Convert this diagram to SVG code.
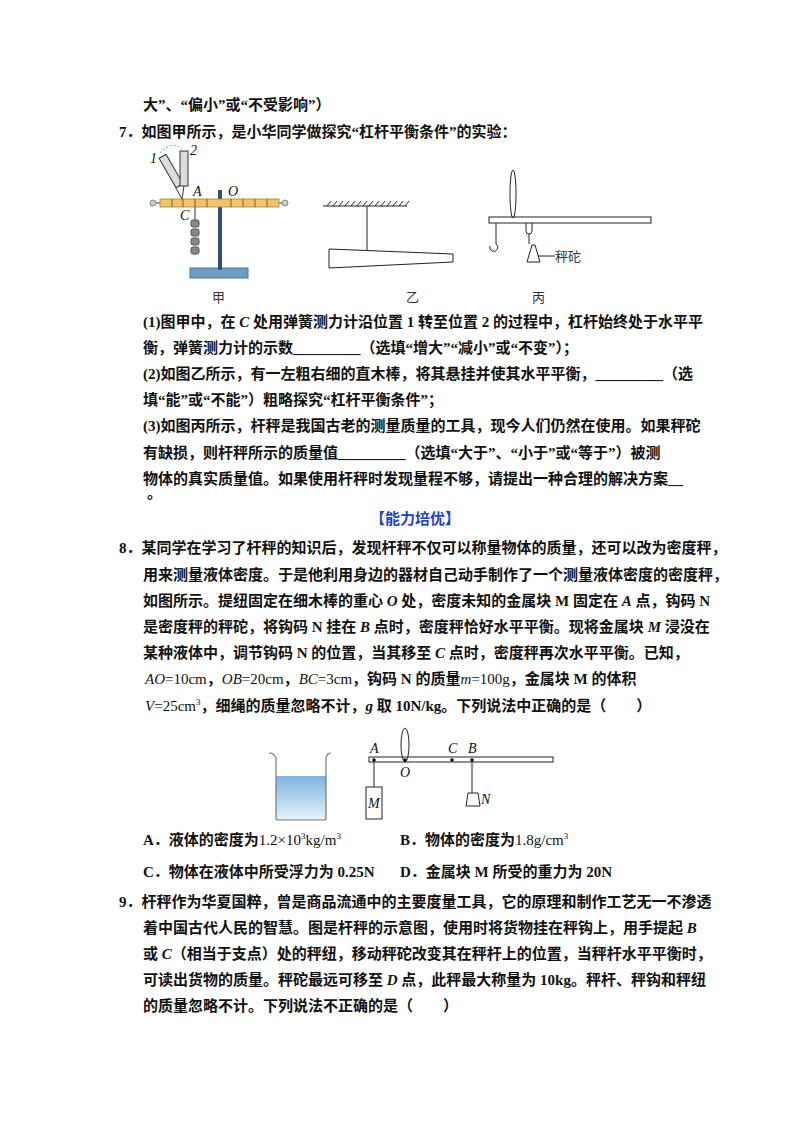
<svg xmlns="http://www.w3.org/2000/svg" width="800" height="1132" viewBox="0 0 800 1132">
<style>
.t{font-family:"Liberation Serif","Noto Sans CJK SC",serif;font-size:15px;font-weight:bold;fill:#111}
.l{font-family:"Liberation Serif",serif;font-size:14px;font-style:italic;fill:#111}
.c{font-family:"Noto Sans CJK SC",sans-serif;font-size:13px;fill:#333}
.s{stroke:#222;stroke-width:1;fill:none}
</style>
<rect width="800" height="1132" fill="#fff"/>
<g id="text">
<text class="t" x="143" y="110">大”、“偏小”或“不受影响”）</text>
<text class="t" x="119" y="137">7．如图甲所示，是小华同学做探究“杠杆平衡条件”的实验：</text>
<text class="t" x="143" y="327">(1)图甲中，在 <tspan font-style="italic">C</tspan> 处用弹簧测力计沿位置 1 转至位置 2 的过程中，杠杆始终处于水平平</text>
<text class="t" x="143" y="353">衡，弹簧测力计的示数_________（选填“增大”“减小”或“不变”）；</text>
<text class="t" x="143" y="379">(2)如图乙所示，有一左粗右细的直木棒，将其悬挂并使其水平平衡，_________（选</text>
<text class="t" x="143" y="405">填“能”或“不能”）粗略探究“杠杆平衡条件”；</text>
<text class="t" x="143" y="431">(3)如图丙所示，杆秤是我国古老的测量质量的工具，现今人们仍然在使用。如果秤砣</text>
<text class="t" x="143" y="458">有缺损，则杆秤所示的质量值_________（选填“大于”、“小于”或“等于”）被测</text>
<text class="t" x="143" y="484">物体的真实质量值。如果使用杆秤时发现量程不够，请提出一种合理的解决方案__</text>
<text class="t" x="147" y="498">。</text>
<text class="t" x="370" y="524" fill="#1a3fd8" style="fill:#1a3fd8">【能力培优】</text>
<text class="t" x="119" y="553">8．某同学在学习了杆秤的知识后，发现杆秤不仅可以称量物体的质量，还可以改为密度秤，</text>
<text class="t" x="143" y="580">用来测量液体密度。于是他利用身边的器材自己动手制作了一个测量液体密度的密度秤，</text>
<text class="t" x="143" y="606">如图所示。提纽固定在细木棒的重心 <tspan font-style="italic">O</tspan> 处，密度未知的金属块 M 固定在 <tspan font-style="italic">A</tspan> 点，钩码 N</text>
<text class="t" x="143" y="632">是密度秤的秤砣，将钩码 N 挂在 <tspan font-style="italic">B</tspan> 点时，密度秤恰好水平平衡。现将金属块 <tspan font-style="italic">M</tspan> 浸没在</text>
<text class="t" x="143" y="658">某种液体中，调节钩码 N 的位置，当其移至 <tspan font-style="italic">C</tspan> 点时，密度秤再次水平平衡。已知，</text>
<text class="t" x="145" y="684"><tspan font-weight="normal" font-style="italic">AO</tspan><tspan font-weight="normal">=10cm</tspan>，<tspan font-weight="normal" font-style="italic">OB</tspan><tspan font-weight="normal">=20cm</tspan>，<tspan font-weight="normal" font-style="italic">BC</tspan><tspan font-weight="normal">=3cm</tspan>，钩码 N 的质量<tspan font-weight="normal" font-style="italic">m</tspan><tspan font-weight="normal">=100g</tspan>，金属块 M 的体积</text>
<text class="t" x="145" y="711"><tspan font-weight="normal" font-style="italic">V</tspan><tspan font-weight="normal">=25cm</tspan><tspan font-weight="normal" font-size="9" dy="-6">3</tspan><tspan dy="6">，细绳的质量忽略不计，</tspan><tspan font-style="italic">g</tspan> 取 10N/kg。下列说法中正确的是（　　）</text>
<text class="t" x="143" y="845">A．液体的密度为<tspan font-weight="normal">1.2×10</tspan><tspan font-weight="normal" font-size="9" dy="-6">3</tspan><tspan font-weight="normal" dy="6">kg/m</tspan><tspan font-weight="normal" font-size="9" dy="-6">3</tspan></text>
<text class="t" x="400" y="845">B．物体的密度为<tspan font-weight="normal">1.8g/cm</tspan><tspan font-weight="normal" font-size="9" dy="-6">3</tspan></text>
<text class="t" x="143" y="877">C．物体在液体中所受浮力为 0.25N</text>
<text class="t" x="400" y="877">D．金属块 M 所受的重力为 20N</text>
<text class="t" x="119" y="907">9．杆秤作为华夏国粹，曾是商品流通中的主要度量工具，它的原理和制作工艺无一不渗透</text>
<text class="t" x="143" y="933">着中国古代人民的智慧。图是杆秤的示意图，使用时将货物挂在秤钩上，用手提起 <tspan font-style="italic">B</tspan></text>
<text class="t" x="143" y="959">或 <tspan font-style="italic">C</tspan>（相当于支点）处的秤纽，移动秤砣改变其在秤杆上的位置，当秤杆水平平衡时，</text>
<text class="t" x="143" y="985">可读出货物的质量。秤砣最远可移至 <tspan font-style="italic">D</tspan> 点，此秤最大称量为 10kg。秤杆、秤钩和秤纽</text>
<text class="t" x="143" y="1011">的质量忽略不计。下列说法不正确的是（　　）</text>
</g>
<g id="fig-jia">
<rect x="190" y="268" width="58" height="10" fill="#6f9cc0" stroke="#4a7aa0"/>
<rect x="218" y="190" width="4" height="80" fill="#2d4f7a"/>
<rect x="160" y="199" width="119" height="8" fill="#f0c46a" stroke="#b08030" stroke-width="0.8"/>
<g stroke="#6a4a10" stroke-width="0.8"><line x1="172" y1="199" x2="172" y2="207"/><line x1="183" y1="199" x2="183" y2="207"/><line x1="195" y1="199" x2="195" y2="207"/><line x1="207" y1="199" x2="207" y2="207"/><line x1="231" y1="199" x2="231" y2="207"/><line x1="243" y1="199" x2="243" y2="207"/><line x1="255" y1="199" x2="255" y2="207"/><line x1="267" y1="199" x2="267" y2="207"/></g>
<line x1="152" y1="203" x2="160" y2="203" stroke="#999" stroke-width="2"/><circle cx="153" cy="203" r="3" fill="#ccc" stroke="#888"/>
<line x1="279" y1="203" x2="287" y2="203" stroke="#999" stroke-width="2"/><circle cx="285" cy="203" r="3" fill="#ccc" stroke="#888"/>
<line x1="195" y1="207" x2="195" y2="220" stroke="#333"/>
<g fill="#888" stroke="#555"><rect x="191" y="220" width="8" height="7" rx="2"/><rect x="191" y="229" width="8" height="7" rx="2"/><rect x="191" y="238" width="8" height="7" rx="2"/><rect x="191" y="247" width="8" height="7" rx="2"/></g>
<line x1="182" y1="199" x2="176" y2="188" stroke="#333"/><line x1="182" y1="199" x2="184" y2="186" stroke="#333"/>
<rect x="167" y="154" width="8" height="34" fill="#ddd" stroke="#333" transform="rotate(-30 171 171)"/>
<rect x="180" y="151" width="8" height="35" fill="#ddd" stroke="#333"/>
<path d="M160 153 Q172 140 182 149" stroke="#4ab0e0" stroke-dasharray="2 2" fill="none"/>
<text class="l" x="150" y="163" font-style="normal">1</text><text class="l" x="190" y="155" font-style="normal">2</text>
<text class="l" x="193" y="196">A</text><text class="l" x="228" y="196">O</text><text class="l" x="180" y="220">C</text>
<text class="c" x="212" y="302">甲</text>
</g>
<g id="fig-yi">
<line x1="323" y1="206" x2="407" y2="206" class="s"/>
<path d="M327 206l4-5M333 206l4-5M339 206l4-5M345 206l4-5M351 206l4-5M357 206l4-5M363 206l4-5M369 206l4-5M375 206l4-5M381 206l4-5M387 206l4-5M393 206l4-5M399 206l4-5M405 206l4-5" class="s"/>
<line x1="367" y1="206" x2="367" y2="250" class="s"/>
<polygon points="329,249 453,254 453,262 329,268" class="s"/>
<text class="c" x="406" y="302">乙</text>
</g>
<g id="fig-bing">
<rect x="489" y="217" width="162" height="6" class="s"/>
<ellipse cx="513" cy="194" rx="3" ry="24" class="s"/>
<path d="M496 223 V244 a4 4 0 1 1 -6 2" class="s"/>
<path d="M526 223 v8 a3 3 0 0 0 6 0 v-8 M529 234 v10" class="s"/>
<polygon points="527,262 540,262 535,245 532,245" class="s"/>
<line x1="538" y1="256" x2="555" y2="256" class="s"/>
<text class="c" x="555" y="261">秤砣</text>
<text class="c" x="532" y="302">丙</text>
</g>
<g id="fig-8">
<defs><linearGradient id="w" x1="0" y1="0" x2="0" y2="1"><stop offset="0" stop-color="#7ab4e0"/><stop offset="1" stop-color="#e8f3fb"/></linearGradient></defs>
<path d="M276 776 H326 V818 Q326 820 324 820 H278 Q276 820 276 818 Z" fill="url(#w)"/>
<path d="M269 753 Q274 753 276 758 V818 Q276 820 278 820 H324 Q326 820 326 818 V758 Q327 753 331 753" fill="none" stroke="#777" stroke-width="1.2"/>
<rect x="369" y="757" width="184" height="5" class="s"/>
<ellipse cx="405" cy="745" rx="4" ry="17" class="s"/>
<circle cx="374" cy="760" r="1.8" fill="#111"/><circle cx="405" cy="760" r="1.8" fill="#111"/><circle cx="452" cy="760" r="1.8" fill="#111"/><circle cx="472" cy="760" r="1.8" fill="#111"/>
<line x1="374" y1="760" x2="374" y2="787" class="s"/>
<rect x="366" y="787" width="16" height="32" class="s"/>
<line x1="472" y1="760" x2="472" y2="793" class="s"/>
<polygon points="466,806 480,806 478,793 468,793" class="s"/>
<text class="l" x="370" y="753">A</text><text class="l" x="400" y="777">O</text><text class="l" x="448" y="753">C</text><text class="l" x="468" y="753">B</text><text class="l" x="368" y="808">M</text><text class="l" x="481" y="804">N</text>
</g>
</svg>
